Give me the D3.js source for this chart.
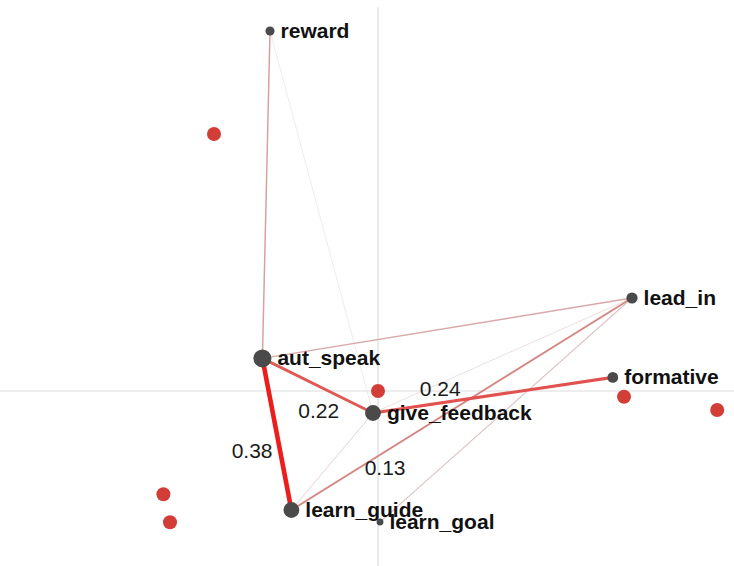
<!DOCTYPE html>
<html>
<head>
<meta charset="utf-8">
<script src="https://cdn.jsdelivr.net/npm/d3@7"></script>
<style>
  html, body { margin: 0; padding: 0; background: #fff; }
  svg { display: block; }
  text { font-family: "Liberation Sans", Arial, sans-serif; }
</style>
</head>
<body>
<svg id="chart" width="734" height="566"></svg>
<script>
// ---- data (ENA space coordinates) ----
const nodeNames = ["reward", "aut_speak", "give_feedback", "learn_guide", "learn_goal", "lead_in", "formative"];
const nodeX     = [-0.540, -0.578, -0.025, -0.433, 0.010, 1.270, 1.174];
const nodeY     = [ 1.800,  0.163, -0.110, -0.595, -0.655, 0.465, 0.068];
const nodeSize  = [ 0.05,   0.30,   0.22,   0.22,   0.02,  0.09,  0.08];

const edgeFrom   = ["aut_speak", "give_feedback", "aut_speak", "learn_guide", "reward", "aut_speak", "lead_in", "learn_guide", "lead_in", "reward"];
const edgeTo     = ["learn_guide", "formative", "give_feedback", "lead_in", "aut_speak", "lead_in", "learn_goal", "give_feedback", "give_feedback", "give_feedback"];
const edgeWeight = [0.38, 0.24, 0.22, 0.13, 0.09, 0.08, 0.05, 0.04, 0.03, 0.02];
const labeledEdges = ["0.38", "0.24", "0.22", "0.13"];

const pointX = [-0.820, 0.000, 1.230, 1.696, -1.073, -1.040];
const pointY = [ 1.285, 0.000, -0.029, -0.095, -0.516, -0.656];

// ---- layout ----
const W = 734, H = 566;
const svg = d3.select("#chart");
const x = d3.scaleLinear().domain([-1.89, 1.78]).range([0, 734]);
const y = d3.scaleLinear().domain([1.955, -0.875]).range([0, 566]);

// axes through origin
svg.append("line").attr("x1", 0).attr("x2", W).attr("y1", y(0)).attr("y2", y(0))
  .attr("stroke", "#dcdcdc").attr("stroke-width", 1.2);
svg.append("line").attr("x1", x(0)).attr("x2", x(0)).attr("y1", 7).attr("y2", H)
  .attr("stroke", "#dcdcdc").attr("stroke-width", 1.2);

const nodes = nodeNames.map((n, i) => ({ name: n, x: nodeX[i], y: nodeY[i], s: nodeSize[i] }));
const byName = Object.fromEntries(nodes.map(d => [d.name, d]));
const edges = edgeFrom.map((f, i) => ({ a: byName[f], b: byName[edgeTo[i]], w: edgeWeight[i] }));

const widthScale = d3.scaleLinear().domain([0, 0.38]).range([0.5, 4.6]);
const colorScale = d3.scaleLinear()
  .domain([0.02, 0.05, 0.09, 0.13, 0.22, 0.38])
  .range(["#eee2e2", "#dfc2c2", "#d6a09e", "#d48783", "#df5a55", "#ec1d1a"]);

const edgeLayer = svg.append("g");
edgeLayer.selectAll("line").data(edges.slice().sort((p, q) => p.w - q.w)).join("line")
  .attr("x1", d => x(d.a.x)).attr("y1", d => y(d.a.y))
  .attr("x2", d => x(d.b.x)).attr("y2", d => y(d.b.y))
  .attr("stroke", d => colorScale(d.w))
  .attr("stroke-width", d => widthScale(d.w))
  .attr("stroke-linecap", "round");

// red points
svg.append("g").selectAll("circle").data(pointX.map((v, i) => ({ x: v, y: pointY[i] }))).join("circle")
  .attr("cx", d => x(d.x)).attr("cy", d => y(d.y)).attr("r", 7)
  .attr("fill", "#d33d38");

// nodes
const rScale = d3.scaleSqrt().domain([0, 0.30]).range([1.5, 9]);
svg.append("g").selectAll("circle").data(nodes).join("circle")
  .attr("cx", d => x(d.x)).attr("cy", d => y(d.y)).attr("r", d => rScale(d.s))
  .attr("fill", "#4a4a4a");

// weight labels: position along edge (t) with pixel offset
const labelLayout = [
  { t: 0.61, dx: -28, dy: 0 },
  { t: 0.28, dx: 0, dy: -14 },
  { t: 0.51, dx: 0, dy: 25 },
  { t: 0.275, dx: 0, dy: 16 }
];
labeledEdges.forEach((lab, i) => {
  const e = edges[i];
  const L = labelLayout[i];
  const px = x(e.a.x) + L.t * (x(e.b.x) - x(e.a.x)) + L.dx;
  const py = y(e.a.y) + L.t * (y(e.b.y) - y(e.a.y)) + L.dy;
  svg.append("text").attr("x", px).attr("y", py + 7)
    .attr("text-anchor", "middle").attr("font-size", 21).attr("fill", "#1a1a1a")
    .text(lab);
});

// node labels
svg.append("g").selectAll("text").data(nodes).join("text")
  .attr("x", d => x(d.x) + rScale(d.s) + 6)
  .attr("y", d => y(d.y) + 6.5)
  .attr("font-size", 21).attr("font-weight", "bold").attr("fill", "#111")
  .text(d => d.name);
</script>
</body>
</html>
